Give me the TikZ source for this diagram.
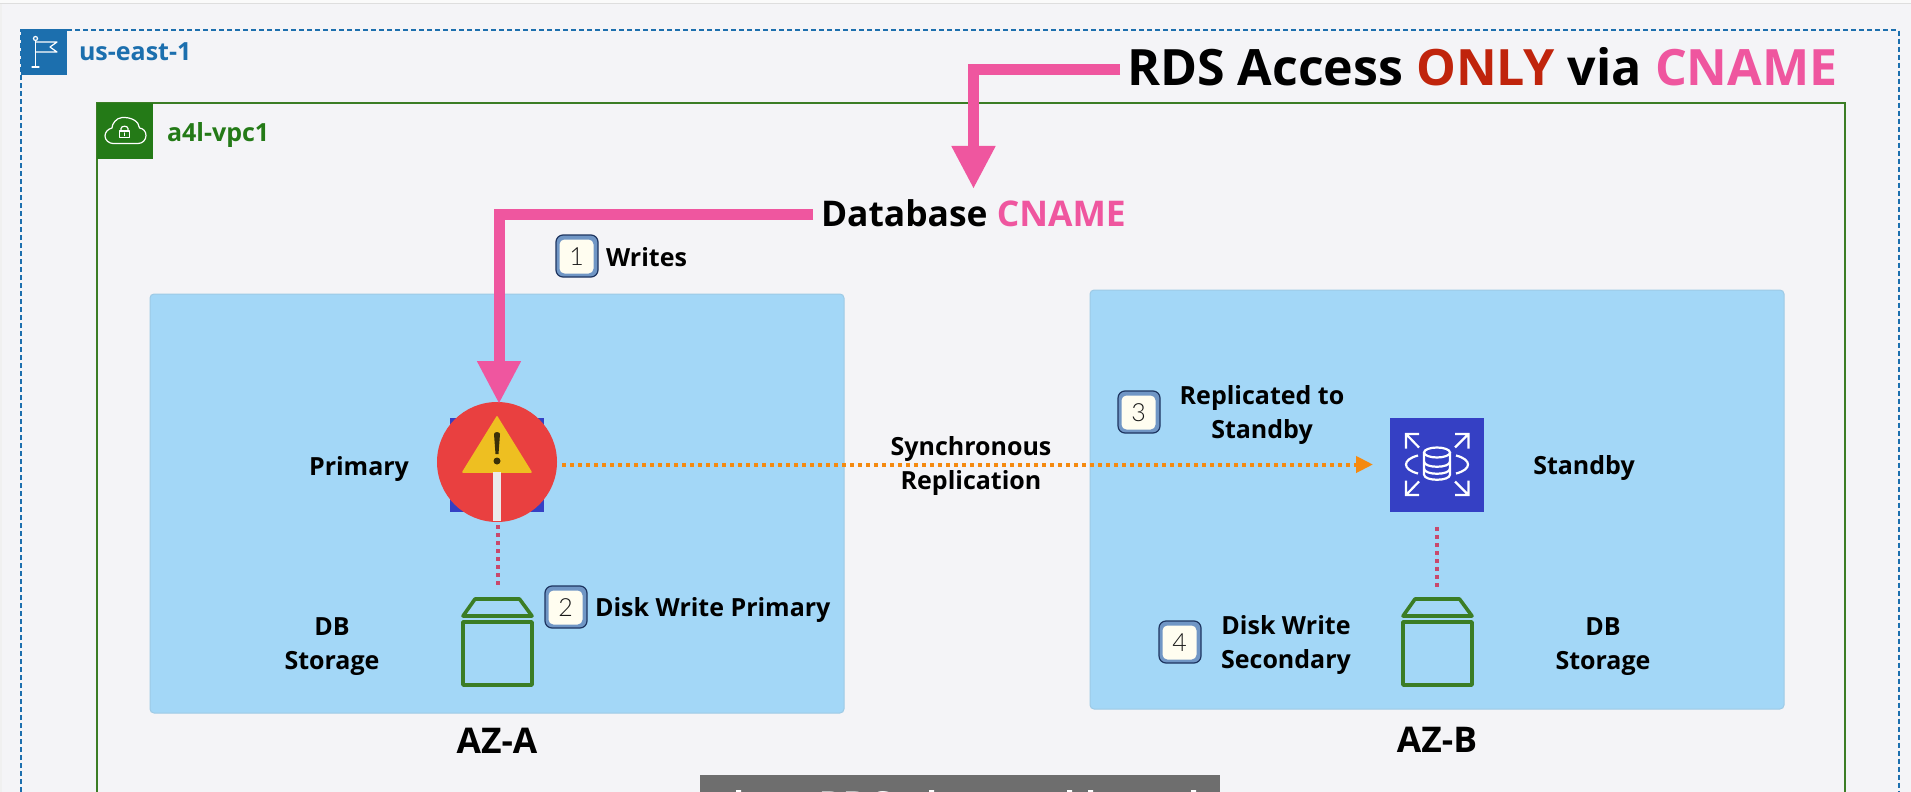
\documentclass[tikz,border=0pt]{standalone}
\usepackage{fontspec}
\setmainfont{Open Sans}
\newfontfamily\badgefont{Lato Light}
\usetikzlibrary{arrows.meta,shapes.geometric}
\definecolor{bgc}{HTML}{F4F4F7}
\definecolor{azc}{HTML}{A3D7F7}
\definecolor{pinkc}{HTML}{EF569F}
\definecolor{redc}{HTML}{C0240C}
\definecolor{bluec}{HTML}{1C6FAE}
\definecolor{greenc}{HTML}{247A17}
\definecolor{storec}{HTML}{3B7D25}
\definecolor{rdsc}{HTML}{3540C4}
\definecolor{orangec}{HTML}{F58A10}
\definecolor{dotc}{HTML}{C8486C}
\definecolor{alertc}{HTML}{E94040}
\definecolor{warnc}{HTML}{EEBF21}
\definecolor{navyc}{HTML}{1E3560}
\definecolor{steelc}{HTML}{7096C5}
\definecolor{creamc}{HTML}{FFFDF0}
\tikzset{
  txt/.style={inner sep=0pt,outer sep=0pt,font=\bfseries\fontsize{12.5}{17}\selectfont,align=center,text=black},
  bigtxt/.style={txt,font=\bfseries\fontsize{17.7}{20}\selectfont},
  titletxt/.style={txt,font=\bfseries\fontsize{25.05}{28}\selectfont},
  azbox/.style={fill=azc,draw=azc!85!gray,line width=0.5pt,rounded corners=2pt},
  pinkline/.style={draw=pinkc,line width=5.5pt,-{Triangle[width=20.5pt,length=21.5pt]}},
  replline/.style={draw=dotc,line width=2pt,dash pattern=on 2pt off 2pt},
  syncline/.style={draw=orangec,line width=2pt,dash pattern=on 2pt off 2pt,-{Triangle[width=8pt,length=8.5pt]}},
  store/.style={draw=storec,line width=1.8pt,line join=round},
  ico/.style={draw=white,line width=0.6pt,line cap=round,line join=round},
  rdsico/.style={draw=white,line width=1.1pt,line join=miter},
  solidbox/.style={inner sep=0pt,outer sep=0pt,minimum width=#1,minimum height=#1},
}
\newcommand{\badgeat}[4]{%
  \node[solidbox=21pt,draw=navyc,fill=steelc,line width=0.6pt,rounded corners=3.5pt] (#1) at (#2,#3) {};
  \node[solidbox=17pt,fill=creamc,rounded corners=2.5pt,font=\badgefont\fontsize{12.5}{14}\selectfont,text=black!90] (#1n) at (#2-0.5,#3+0.5) {#4};
}
\newcommand{\storeat}[2]{% x centre, name
  \coordinate (#2) at (#1,599);
  \draw[store] (#1-34.5,616) -- (#1-22.5,599) -- (#1+22,599) -- (#1+34.5,616) -- cycle;
  \draw[store] (#1-34.5,622) rectangle (#1+34.5,685);
}
\begin{document}
\begin{tikzpicture}[x=0.5pt,y=-0.5pt]
\useasboundingbox (0,0) rectangle (1911,792);
\fill[bgc] (0,0) rectangle (1911,792);
\fill[black!2] (0,0) rectangle (1911,3);
\fill[black!13] (0,3) rectangle (1911,4.5);
\fill[black!6] (0,4) rectangle (1.5,792);
% region and VPC frames
\draw[bluec,line width=1pt,dash pattern=on 2.5pt off 1.5pt] (21,792) -- (21,30) -- (1898.5,30) -- (1898.5,792);
\node[solidbox=23pt,fill=bluec,anchor=north west] (regionicon) at (21,29) {};
\draw[ico] (35.5,41) -- (35.5,67) (32,67) -- (39,67);
\draw[ico] (35.5,38.5) circle (2);
\draw[ico] (35.5,42) -- (57,42) -- (50,47) -- (57,52) -- (35.5,52);
\node[txt,anchor=base west,text=bluec] (region) at (79,61) {us-east-1};
\draw[storec,line width=1pt] (97,792) -- (97,103.5) -- (1845,103.5) -- (1845,792);
\node[solidbox=28pt,fill=greenc,anchor=north west] (vpcicon) at (97,103) {};
\draw[ico] (113,143.5) -- (138,143.5) .. controls (143,143.5) and (146,139.5) .. (146,135.5)
  .. controls (146,131) and (143,128.5) .. (139.5,128) .. controls (139,121) and (131,117) .. (122,117.5)
  .. controls (116,118) and (112,124) .. (112,128) .. controls (108,129) and (105,132) .. (105,136)
  .. controls (105,140) and (109,143.5) .. (113,143.5) -- cycle;
\draw[ico] (119.5,131) rectangle (129.5,137.5);
\draw[ico] (124.5,133) -- (124.5,135.5);
\draw[ico] (121,131) -- (121,128.5) .. controls (121,125.5) and (128,125.5) .. (128,128.5) -- (128,131);
\node[txt,anchor=base west,text=greenc] (vpc) at (167,141) {a4l-vpc1};
% AZ boxes
\draw[azbox] (150,294) rectangle (844,713);
\draw[azbox] (1090,290) rectangle (1784,709);
\node[bigtxt,anchor=base] (aza) at (497,753) {AZ-A};
\node[bigtxt,anchor=base] (azb) at (1437,752) {AZ-B};
% titles
\node[titletxt,anchor=base west] (title) at (1127,86) {RDS Access \textcolor{redc}{ONLY} via \textcolor{pinkc}{CNAME}};
\node[bigtxt,anchor=base west] (cname) at (821,226) {Database \textcolor{pinkc}{CNAME}};
% DB instances
\node[solidbox=47pt,fill=rdsc] (primarydb) at (497,464.5) {};
\node[circle,fill=alertc,minimum size=60pt,inner sep=0pt,outer sep=0pt] (alert) at (497,462) {};
\fill[warnc,draw=warnc,line width=0.8pt,line join=round] (497,417) -- (531,472) -- (463,472) -- cycle;
\fill[black!75!warnc] (494,434) .. controls (494,431.5) and (500,431.5) .. (500,434) -- (498.5,454) -- (495.5,454) -- cycle;
\fill[black!75!warnc] (497,461) circle (3.5);
\fill[black!8] (493,472) rectangle (501,521);
\node[solidbox=47pt,fill=rdsc] (standbydb) at (1437,464.5) {};
\begin{scope}[shift={(1437,464.5)}]
  \draw[rdsico] (-31,-16) -- (-31,-30.5) -- (-18,-30.5) (-31,-30.5) -- (-18,-17);
  \draw[rdsico] (31.5,-16) -- (31.5,-30.5) -- (18,-30.5) (31.5,-30.5) -- (18,-17);
  \draw[rdsico] (-31,16) -- (-31,30.5) -- (-18,30.5) (-31,30.5) -- (-18,17);
  \draw[rdsico] (31.5,16) -- (31.5,30.5) -- (18,30.5) (31.5,30.5) -- (18,17);
  \draw[rdsico] (-19,-9) .. controls (-35,-5) and (-35,5) .. (-19,9);
  \draw[rdsico] (19,-9) .. controls (35,-5) and (35,5) .. (19,9);
  \draw[rdsico] (0,-12) ellipse (13 and 5);
  \draw[rdsico] (-13,-12) -- (-13,10) .. controls (-13,17) and (13,17) .. (13,10) -- (13,-12);
  \draw[rdsico] (-13,-3) .. controls (-13,4) and (13,4) .. (13,-3);
  \draw[rdsico] (-13,4) .. controls (-13,11) and (13,11) .. (13,4);
\end{scope}
% storage
\storeat{497.5}{storeA}
\storeat{1437.5}{storeB}
% connectors
\coordinate (t1) at (1120,69.5);
\coordinate (t2) at (973.5,189);
\coordinate (c1) at (813,214.5);
\coordinate (c2) at (499,404);
\draw[pinkline] (t1) -| (t2);
\draw[pinkline] (c1) -| (c2);
\coordinate (s1) at (562,464.5);
\coordinate (s2) at (1373,464.5);
\draw[syncline] (s1) -- (s2);
\coordinate (ra) at (497.5,525);
\coordinate (rae) at (497.5,587);
\coordinate (rb) at (1437,527);
\coordinate (rbe) at (1437,587);
\draw[replline] (ra) -- (rae);
\draw[replline] (rb) -- (rbe);
% badges
\badgeat{b1}{577}{256}{1}
\badgeat{b2}{566}{607}{2}
\badgeat{b3}{1139}{412}{3}
\badgeat{b4}{1180}{642}{4}
% labels
\node[txt,anchor=base west] (writes) at (606,266) {Writes};
\node[txt,anchor=base west] (dwp) at (595,616) {Disk Write Primary};
\node[txt,anchor=base] (primary) at (359,475) {Primary};
\node[txt,anchor=base] (standby) at (1584,474) {Standby};
\node[txt,anchor=base] (dbl) at (332,669) {DB\\Storage};
\node[txt,anchor=base] (dbr) at (1603,669) {DB\\Storage};
\node[txt,anchor=base] (sync) at (971,489) {Synchronous\\Replication};
\node[txt,anchor=base] (repl) at (1262,438) {Replicated to\\Standby};
\node[txt,anchor=base] (dws) at (1286,668) {Disk Write\\Secondary};
% cropped banner
\fill[black!57] (700,775) rectangle (1220,792);
\begin{scope}
  \clip (700,775) rectangle (1220,792);
  \node[txt,anchor=base west,text=white,font=\fontsize{20}{24}\selectfont] (banner) at (818,820) {RDS};
  \fill[white] (736,790) rectangle (741,792) (929,790) rectangle (934,792) (1067,790) rectangle (1072,792) (1088,790) rectangle (1093,792) (1191,790) rectangle (1196,792);
\end{scope}
\end{tikzpicture}
\end{document}
